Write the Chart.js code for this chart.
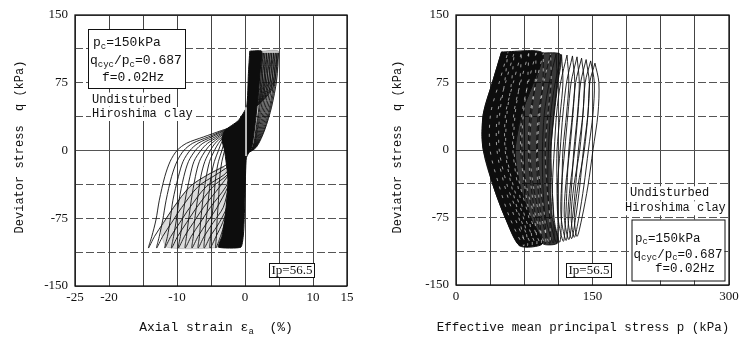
<!DOCTYPE html>
<html>
<head>
<meta charset="utf-8">
<script src="https://cdn.jsdelivr.net/npm/chart.js@4.4.1/dist/chart.umd.min.js"></script>
<style>
  html, body { margin: 0; padding: 0; background: #fff; }
  #wrap { position: relative; width: 756px; height: 339px; }
  canvas { position: absolute; top: 0; }
</style>
</head>
<body>
<div id="wrap">
  <canvas id="strainChart" width="378" height="339" style="left:0"></canvas>
  <canvas id="pathChart" width="378" height="339" style="left:378px"></canvas>
</div>
<script>
// tick labels shown
var strainTicks = [-25, -20, -10, 0, 10, 15];
var qTicks = [-150, -75, 0, 75, 150];
var pTicks = [0, 150, 300];

// ---- left chart : q vs axial strain, 11 outer cycles (outermost first) ----
// unloading from compression peak down to the fan top
var unloadQ = [108, 95, 70, 55, 44, 35, 27];
var unloadStrain = [
  [4.9, 4.7, 4.1, 2.6, 0.8, -0.3, -1.7],
  [4.7, 4.5, 3.9, 2.5, 0.8, -0.3, -1.7],
  [4.45, 4.25, 3.7, 2.4, 0.8, -0.3, -1.7],
  [4.2, 4.0, 3.45, 2.3, 0.8, -0.3, -1.7],
  [3.95, 3.75, 3.25, 2.2, 0.8, -0.3, -1.7],
  [3.7, 3.5, 3.0, 2.1, 0.8, -0.3, -1.7],
  [3.45, 3.25, 2.8, 2.0, 0.8, -0.3, -1.7],
  [3.2, 3.0, 2.6, 1.9, 0.8, -0.3, -1.7],
  [2.95, 2.75, 2.4, 1.8, 0.8, -0.3, -1.7],
  [2.7, 2.5, 2.2, 1.7, 0.8, -0.3, -1.7],
  [2.5, 2.3, 2.0, 1.6, 0.8, -0.3, -1.7]
];
// extension branch (the fan) down to the extension peak
var extQ = [22, 15, 8, 0, -12, -29, -55, -77, -95, -108];
var extStrain = [
  [-3.5, -6.1, -8.6, -10.0, -11.0, -11.8, -12.6, -13.1, -13.7, -14.2],
  [-3.2, -5.4, -7.7, -9.0, -10.0, -10.8, -11.6, -12.1, -12.6, -13.0],
  [-3.0, -4.9, -6.9, -8.1, -9.1, -9.8, -10.6, -11.0, -11.4, -11.8],
  [-2.8, -4.4, -6.2, -7.3, -8.3, -9.0, -9.7, -10.1, -10.5, -10.8],
  [-2.7, -4.0, -5.5, -6.5, -7.5, -8.1, -8.8, -9.2, -9.5, -9.8],
  [-2.6, -3.7, -4.9, -5.8, -6.7, -7.3, -7.9, -8.3, -8.6, -8.8],
  [-2.5, -3.4, -4.4, -5.1, -5.9, -6.5, -7.0, -7.4, -7.6, -7.8],
  [-2.4, -3.2, -3.9, -4.5, -5.2, -5.7, -6.2, -6.5, -6.7, -6.9],
  [-2.3, -2.9, -3.5, -3.9, -4.5, -5.0, -5.4, -5.7, -5.9, -6.0],
  [-2.2, -2.7, -3.1, -3.4, -3.9, -4.3, -4.6, -4.9, -5.05, -5.15],
  [-2.1, -2.5, -2.8, -3.0, -3.4, -3.7, -3.9, -4.1, -4.2, -4.3]
];
// reloading diagonals back to the core
var reloadQ = [-95, -80, -63, -40, -27, -18, -10, -3];
var reloadStrain = [
  [-13.3, -12.0, -10.5, -8.1, -5.5, -3.2, -1.5, 0.3],
  [-12.1, -10.8, -9.3, -6.9, -4.3, -2.5, -1.3, 0.3],
  [-10.9, -9.6, -8.1, -5.7, -3.1, -2.0, -1.0, 0.3],
  [-9.9, -8.6, -7.1, -4.7, -2.6, -1.8, -1.0, 0.3],
  [-8.9, -7.6, -6.1, -3.7, -2.4, -1.7, -1.0, 0.3],
  [-7.9, -6.6, -5.1, -2.8, -2.2, -1.6, -1.0, 0.3],
  [-6.9, -5.6, -4.1, -2.5, -2.0, -1.5, -1.0, 0.3],
  [-6.0, -4.7, -3.2, -2.4, -2.0, -1.5, -1.0, 0.3],
  [-5.1, -3.8, -2.7, -2.3, -2.0, -1.5, -1.0, 0.3],
  [-4.25, -3.3, -2.6, -2.3, -2.0, -1.5, -1.0, 0.3],
  [-3.6, -3.0, -2.6, -2.3, -2.0, -1.5, -1.0, 0.3]
];
// compression side, back up to the peak
var compQ = [4, 23, 48, 78];
var compStrain = [
  [1.7, 2.9, 3.9, 4.65],
  [1.6, 2.8, 3.75, 4.45],
  [1.55, 2.65, 3.6, 4.25],
  [1.5, 2.5, 3.4, 4.0],
  [1.45, 2.35, 3.2, 3.75],
  [1.4, 2.2, 3.0, 3.5],
  [1.35, 2.05, 2.8, 3.25],
  [1.3, 1.9, 2.6, 3.0],
  [1.25, 1.8, 2.4, 2.8],
  [1.2, 1.7, 2.2, 2.55],
  [1.15, 1.6, 2.05, 2.35]
];
// dense black core of the early cycles
var coreStrain = [0.7, 2.45, 2.3, 2.0, 1.5, 1.0, 0.2, 0.0, -0.2, -0.6, -3.9, -3.4, -2.9, -2.5, -3.0, -3.4, -3.0, -1.0, 0.25, 0.5, 0.7];
var coreQ = [110, 110, 95, 67, 30, 4, -8, -50, -90, -107, -107, -95, -73, -33, 0, 12, 22, 33, 48.5, 85, 110];
// grey band of tightly packed compression loops
var bandStrain = [2.45, 4.9, 4.65, 3.9, 2.9, 1.7, 0.9, 1.0, 1.5, 2.0, 2.3, 2.45];
var bandQ = [110, 110, 78, 48, 23, 4, -1, 4, 30, 67, 95, 110];
// hatched area below the fan
var hatchStrain = [-12.5, -10.5, -8.1, -5.5, -3.2, -2.5, -2.9, -3.4, -3.9, -11.5, -12.5];
var hatchQ = [-88, -63, -40, -27, -18, -33, -73, -95, -107, -107, -88];
// white gap along zero strain
var gapStrain = [0.15, 0.15];
var gapQ = [48, -6];

// ---- right chart : q vs p, 17 loops (last cycle first) ----
var loopTopP = [50, 57, 64, 72, 80, 88, 96, 104, 110, 116, 122, 128, 133, 138, 143, 148, 152.7];
var loopTopQ = [108.5, 108.5, 108.5, 108.5, 108, 108, 107.5, 107, 106.5, 106, 105.5, 104.5, 103.5, 102, 100.5, 99, 96.5];
var loopBotQ = [-106.5, -106.5, -106, -106, -105.5, -105, -104.5, -104, -103.5, -103, -102.5, -101.5, -100.5, -99.5, -98.5, -97, -96];
var sideQ = [75, 40, 0, -40, -75];
// p on the falling side (q 75..-75), p at bottom, p on the rising side (q -75..75)
var loopP = [
  [46, 40, 40, 50, 64, 70, 54, 41, 30, 30, 40],
  [53.5, 48, 47.5, 56.5, 69, 74.5, 59, 47.5, 37.5, 38, 47.5],
  [61, 56, 55, 63, 74, 78.5, 64.5, 53.5, 45, 45.5, 54.5],
  [70, 65, 63.5, 70.5, 80, 83.5, 70.5, 61, 54, 54.5, 63],
  [78.5, 74, 72.5, 77.5, 86, 88.5, 76, 68, 62.5, 63.5, 71],
  [87, 83, 81, 85, 91.5, 93.5, 82, 75.5, 71, 72.5, 79.5],
  [95.5, 92, 89.5, 92.5, 97.5, 98, 88, 82.5, 79.5, 81.5, 88],
  [104.5, 101, 98, 100, 103, 103, 94, 90, 88.5, 90.5, 96.5],
  [111, 107.5, 104.5, 105.5, 107.5, 107, 98.5, 95.5, 95, 97, 102.5],
  [117.5, 114.5, 111, 111, 112, 110.5, 103, 101, 101.5, 104, 109],
  [124, 121.5, 117.5, 116.5, 116, 114, 107.5, 106, 108, 110.5, 115],
  [130.5, 128, 124, 122, 120.5, 118, 112, 111.5, 114.5, 117.5, 121.5],
  [135.5, 133.5, 129.5, 127, 124, 121, 115.5, 116, 119.5, 123, 126.5],
  [141, 139.5, 134.5, 131.5, 128, 124, 119, 120.5, 125, 128.5, 131.5],
  [146.5, 145, 140, 136, 131.5, 127, 123, 125.5, 130.5, 134, 137],
  [152, 150.5, 145.5, 140.5, 135, 130, 126.5, 129.5, 136, 139.5, 142],
  [157, 156, 150.5, 145, 138.5, 133, 130, 134, 141, 145, 147]
];
var pathCoreP = [50, 95, 85, 72, 65, 70, 82, 95, 70, 54, 41, 30, 28.5, 30, 40, 50];
var pathCoreQ = [109, 108, 75, 40, 0, -40, -75, -104, -106.5, -75, -40, 0, 15, 40, 75, 109];
var pathMidP = [95, 115, 112, 108, 104, 104, 106, 112, 95, 82, 70, 65, 72, 85, 95];
var pathMidQ = [108, 106, 75, 40, 0, -40, -75, -103, -104, -75, -40, 0, 40, 75, 108];
// loops whose gaps show as white streaks inside the dark core
var streakLoops = [1, 2, 3, 4, 5, 6, 7];

var MONO = '"Liberation Mono", "DejaVu Sans Mono", monospace';
var SERIF = '"Liberation Serif", "DejaVu Serif", serif';
var INK = '#111';

function zip(xs, ys) {
  return xs.map(function (x, i) { return { x: x, y: ys[i] }; });
}

function strainLoop(i) {
  var pts = zip(unloadStrain[i], unloadQ);
  pts = pts.concat(zip(extStrain[i], extQ), zip(reloadStrain[i], reloadQ), zip(compStrain[i], compQ));
  pts.push({ x: unloadStrain[i][0], y: unloadQ[0] });
  return pts;
}

function pathLoop(k) {
  var row = loopP[k];
  var pts = [{ x: loopTopP[k], y: loopTopQ[k] }];
  sideQ.forEach(function (q, j) { pts.push({ x: row[j], y: q }); });
  pts.push({ x: row[5], y: loopBotQ[k] });
  sideQ.slice().reverse().forEach(function (q, j) { pts.push({ x: row[6 + j], y: q }); });
  pts.push({ x: loopTopP[k], y: loopTopQ[k] });
  return pts;
}

function lineSet(pts, color, width, order, tension) {
  return { data: pts, borderColor: color, borderWidth: width, pointRadius: 0, fill: false, tension: tension, order: order };
}
function areaSet(pts, color, order, tension) {
  return { data: pts, borderColor: color, backgroundColor: color, borderWidth: 1, pointRadius: 0, fill: 'shape', tension: tension, order: order };
}

function richWidth(ctx, parts, size) {
  var w = 0;
  parts.forEach(function (p) {
    ctx.font = (p[1] ? Math.round(size * 0.7) : size) + 'px ' + MONO;
    w += ctx.measureText(p[0]).width;
  });
  return w;
}
function drawRich(ctx, parts, x, y, size) {
  ctx.textAlign = 'left';
  ctx.textBaseline = 'middle';
  ctx.fillStyle = INK;
  parts.forEach(function (p) {
    ctx.font = (p[1] ? Math.round(size * 0.7) : size) + 'px ' + MONO;
    ctx.fillText(p[0], x, p[1] ? y + size * 0.3 : y);
    x += ctx.measureText(p[0]).width;
  });
}
function bgText(ctx, text, x, y, font) {
  ctx.font = font;
  var w = ctx.measureText(text).width;
  ctx.fillStyle = '#fff';
  ctx.fillRect(x - 1, y - 7, w + 2, 14);
  ctx.fillStyle = INK;
  ctx.textAlign = 'left';
  ctx.textBaseline = 'middle';
  ctx.fillText(text, x, y);
}
function whiteBox(ctx, x, y, w, h) {
  ctx.fillStyle = '#fff';
  ctx.fillRect(x, y, w, h);
  ctx.strokeStyle = INK;
  ctx.lineWidth = 1;
  ctx.strokeRect(x + 0.5, y + 0.5, w, h);
}
function frameAndYTitle(ctx, a) {
  ctx.strokeStyle = INK;
  ctx.lineWidth = 1.3;
  ctx.strokeRect(a.left, a.top, a.right - a.left, a.bottom - a.top);
  ctx.save();
  ctx.translate(20, 147);
  ctx.rotate(-Math.PI / 2);
  ctx.font = '12px ' + MONO;
  ctx.fillStyle = INK;
  ctx.textAlign = 'center';
  ctx.textBaseline = 'middle';
  ctx.fillText('Deviator stress  q (kPa)', 0, 0);
  ctx.restore();
}
function ipBox(ctx, x, y) {
  whiteBox(ctx, x, y, 45, 14);
  ctx.font = '13px ' + SERIF;
  ctx.fillStyle = INK;
  ctx.textAlign = 'center';
  ctx.textBaseline = 'middle';
  ctx.fillText('Ip=56.5', x + 23, y + 7.5);
}

var pcParts = [['p'], ['c', 1], ['=150kPa']];
var ratioParts = [['q'], ['cyc', 1], ['/p'], ['c', 1], ['=0.687']];
var freqParts = [['f=0.02Hz']];

var strainDecor = {
  id: 'strainDecor',
  afterDraw: function (chart) {
    var ctx = chart.ctx;
    frameAndYTitle(ctx, chart.chartArea);
    whiteBox(ctx, 88, 29, 97, 59);
    drawRich(ctx, pcParts, 93, 42.7, 13);
    drawRich(ctx, ratioParts, 90, 61, 13);
    drawRich(ctx, freqParts, 102, 77.7, 13);
    bgText(ctx, 'Undisturbed', 92, 99.5, '12px ' + MONO);
    bgText(ctx, 'Hiroshima clay', 92, 114, '12px ' + MONO);
    ipBox(ctx, 269, 263);
    var title = [['Axial strain ε'], ['a', 1], ['  (%)']];
    drawRich(ctx, title, 216 - richWidth(ctx, title, 13) / 2, 328, 13);
  }
};

var pathDecor = {
  id: 'pathDecor',
  afterDraw: function (chart) {
    var ctx = chart.ctx;
    frameAndYTitle(ctx, chart.chartArea);
    bgText(ctx, 'Undisturbed', 252, 193.3, '12px ' + MONO);
    bgText(ctx, 'Hiroshima clay', 247, 208.3, '12px ' + MONO);
    whiteBox(ctx, 253.5, 219.5, 93, 61);
    drawRich(ctx, pcParts, 257, 238.3, 12.5);
    drawRich(ctx, ratioParts, 255.5, 254.3, 12.5);
    drawRich(ctx, freqParts, 277, 268.3, 12.5);
    ipBox(ctx, 188, 263);
    var title = [['Effective mean principal stress p (kPa)']];
    drawRich(ctx, title, 205 - richWidth(ctx, title, 12.5) / 2, 328, 12.5);
  }
};

function axes(xMin, xMax, xStep, xLabels, yWidth, xHeight) {
  var tickFont = { family: SERIF, size: 13 };
  return {
    x: {
      type: 'linear', min: xMin, max: xMax,
      afterFit: function (s) { s.height = xHeight; },
      ticks: {
        stepSize: xStep, autoSkip: false, maxRotation: 0, padding: 4, color: INK, font: tickFont,
        callback: function (v) { return xLabels.indexOf(v) >= 0 ? v : ''; }
      },
      grid: { color: '#444', lineWidth: 1, drawTicks: false },
      border: { display: false, dash: [] }
    },
    y: {
      type: 'linear', min: -150, max: 150,
      afterFit: function (s) { s.width = yWidth; },
      ticks: {
        stepSize: 37.5, autoSkip: false, padding: 7, color: INK, font: tickFont,
        callback: function (v) { return qTicks.indexOf(v) >= 0 ? v : ''; }
      },
      grid: { color: '#555', lineWidth: 1, drawTicks: false },
      border: {
        display: false,
        dash: function (c) { return (c.tick && c.tick.value % 150 === 0) ? [] : [8, 3]; }
      }
    }
  };
}

function baseOptions(scales, padRight) {
  return {
    responsive: false, animation: false, devicePixelRatio: 1, events: [],
    layout: { padding: { top: 15, right: padRight, left: 0, bottom: 0 } },
    plugins: { legend: { display: false }, tooltip: { enabled: false } },
    scales: scales
  };
}

var strainSets = [
  areaSet(zip(bandStrain, bandQ), 'rgba(0,0,0,0.22)', 4, 0.2),
  areaSet(zip(hatchStrain, hatchQ), 'rgba(0,0,0,0.14)', 4, 0.2)
];
unloadStrain.forEach(function (r, i) { strainSets.push(lineSet(strainLoop(i), INK, 0.9, 3, 0.3)); });
strainSets.push(areaSet(zip(coreStrain, coreQ), '#0d0d0d', 1, 0.15));
strainSets.push(lineSet(zip(gapStrain, gapQ), '#fff', 1.4, 0, 0));

new Chart(document.getElementById('strainChart'), {
  type: 'line',
  data: { datasets: strainSets },
  options: baseOptions(axes(-25, 15, 5, strainTicks, 75, 53), 31),
  plugins: [strainDecor]
});

var pathSets = [areaSet(zip(pathMidP, pathMidQ), 'rgba(0,0,0,0.78)', 4, 0.25)];
loopTopP.forEach(function (p, k) { pathSets.push(lineSet(pathLoop(k), INK, 0.9, 3, 0.3)); });
pathSets.push(areaSet(zip(pathCoreP, pathCoreQ), '#0d0d0d', 1, 0.25));
streakLoops.forEach(function (k) {
  var s = lineSet(pathLoop(k), 'rgba(255,255,255,0.75)', 0.8, 0, 0.3);
  s.borderDash = [3, 6];
  s.borderDashOffset = k * 2;
  pathSets.push(s);
});

new Chart(document.getElementById('pathChart'), {
  type: 'line',
  data: { datasets: pathSets },
  options: baseOptions(axes(0, 300, 37.5, pTicks, 78, 54), 27),
  plugins: [pathDecor]
});
</script>
</body>
</html>
